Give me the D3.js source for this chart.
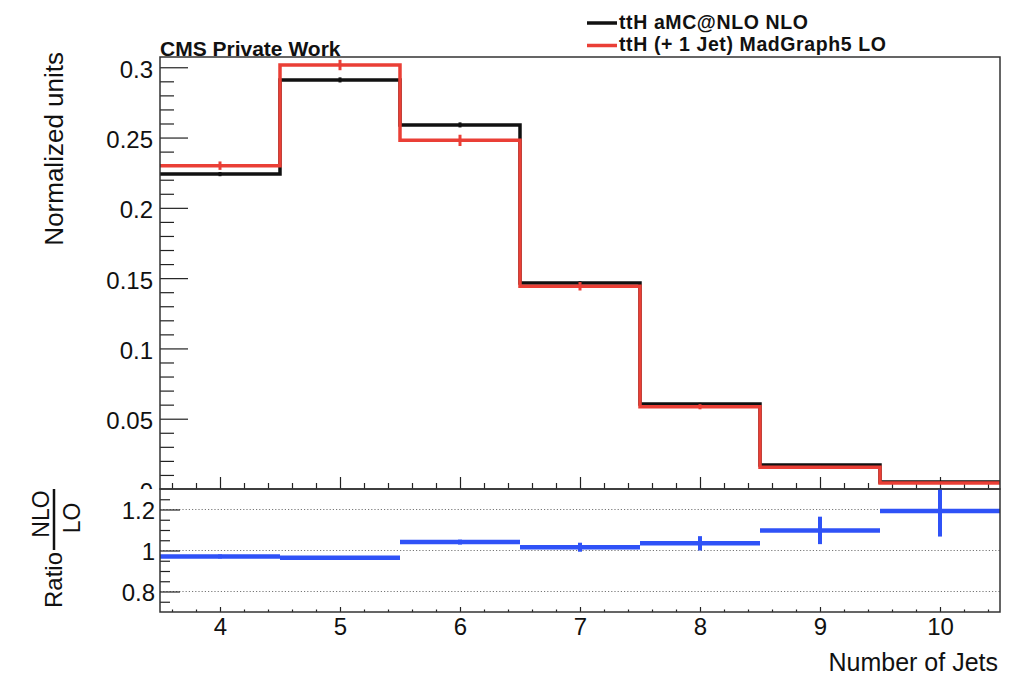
<!DOCTYPE html>
<html>
<head>
<meta charset="utf-8">
<script src="https://cdn.jsdelivr.net/npm/d3@7"></script>
<style>
  body { margin: 0; background: #fff; }
  svg { display: block; font-family: "Liberation Sans", Arial, Helvetica, sans-serif; }
</style>
</head>
<body>
<div id="svg-area"></div>
<script>
// bins of the histogram (number of jets)
const jets = [4, 5, 6, 7, 8, 9, 10]

// ttH aMC@NLO NLO (black)
const nloValues = [0.224, 0.291, 0.259, 0.1465, 0.0605, 0.0170, 0.0050]
const nloErrors = [0.0015, 0.0018, 0.0018, 0.0013, 0.0008, 0.0004, 0.0002]

// ttH (+ 1 Jet) MadGraph5 LO (red)
const loValues = [0.230, 0.3016, 0.248, 0.1442, 0.0585, 0.0155, 0.0042]
const loErrors = [0.003, 0.0037, 0.004, 0.003, 0.0018, 0.0009, 0.0004]

// ratio NLO / LO (blue)
const ratioValues = [0.971, 0.965, 1.041, 1.016, 1.035, 1.098, 1.193]
const ratioErrors = [0.010, 0.008, 0.012, 0.022, 0.035, 0.067, 0.125]

const yTicks = [0, 0.05, 0.1, 0.15, 0.2, 0.25, 0.3]
const ratioTicks = [0.8, 1, 1.2]
const xTicks = [4, 5, 6, 7, 8, 9, 10]

const legendLabels = ["ttH aMC@NLO NLO", "ttH (+ 1 Jet) MadGraph5 LO"]

const width = 1009,
    height = 677

const left = 160, right = 1000
const topY = 57, midY = 489, bottomY = 612

const black = "#111", red = "#ea3f36", blue = "#2f52f7"

const svg = d3.select("#svg-area").append("svg")
        .attr("width", width)
        .attr("height", height)

const x = d3.scaleLinear().domain([3.5, 10.5]).range([left, right])
const y = d3.scaleLinear().domain([0, 0.3073]).range([midY, topY])
const yr = d3.scaleLinear().domain([0.7, 1.3]).range([bottomY, midY])

const minorY = d3.range(0, 0.305, 0.01).filter(v => Math.abs(v * 20 - Math.round(v * 20)) > 1e-6)
const minorX = d3.range(3.6, 10.45, 0.2).filter(v => Math.abs(v - Math.round(v)) > 1e-6)
const minorR = d3.range(0.75, 1.29, 0.05).filter(v => Math.abs(v * 5 - Math.round(v * 5)) > 1e-6)

const defs = svg.append("defs")
defs.append("clipPath").attr("id", "clip-top")
    .append("rect").attr("x", left).attr("y", topY).attr("width", right - left).attr("height", midY - topY)
defs.append("clipPath").attr("id", "clip-bot")
    .append("rect").attr("x", left).attr("y", midY).attr("width", right - left).attr("height", bottomY - midY)
// the upper pad cuts its "0" label in half
defs.append("clipPath").attr("id", "clip-pad")
    .append("rect").attr("x", -left).attr("y", 0).attr("width", width).attr("height", midY)

const styleAxis = (g, w) => {
    g.select(".domain").remove()
    g.selectAll("line").attr("stroke", "#222").attr("stroke-width", w || 1.2)
    g.selectAll("text").attr("fill", "#111").attr("font-size", 24)
}

// ---------- upper panel ----------
const upper = svg.append("g")

upper.append("g")
    .attr("transform", "translate(" + left + ",0)")
    .call(d3.axisLeft(y).tickValues(minorY).tickSize(-14).tickFormat(""))
    .call(g => styleAxis(g))

const yAxis = upper.append("g")
    .attr("transform", "translate(" + left + ",0)")
    .attr("clip-path", "url(#clip-pad)")
    .call(d3.axisLeft(y).tickValues(yTicks).tickSize(-28).tickPadding(7).tickFormat(d => String(d)))
    .call(g => styleAxis(g))
yAxis.selectAll("text").attr("dy", "0.42em")

upper.append("g")
    .attr("transform", "translate(0," + midY + ")")
    .call(d3.axisBottom(x).tickValues(minorX).tickSize(-6).tickFormat(""))
    .call(g => styleAxis(g))
upper.append("g")
    .attr("transform", "translate(0," + midY + ")")
    .call(d3.axisBottom(x).tickValues(xTicks).tickSize(-12).tickFormat(""))
    .call(g => styleAxis(g))

const stepLine = d3.line()
        .x(d => x(d[0]))
        .y(d => y(d[1]))
        .curve(d3.curveStepAfter)

const histPoints = (vals) => {
    const pts = jets.map((j, i) => [j - 0.5, vals[i]])
    pts.push([jets[jets.length - 1] + 0.5, vals[vals.length - 1]])
    return pts
}

const hists = upper.append("g").attr("clip-path", "url(#clip-top)")

const drawHist = (vals, errs, color) => {
    hists.append("path")
        .attr("d", stepLine(histPoints(vals)))
        .attr("fill", "none")
        .attr("stroke", color)
        .attr("stroke-width", 3.5)
    hists.selectAll(null)
        .data(jets)
        .enter()
        .append("line")
        .attr("x1", d => x(d))
        .attr("x2", d => x(d))
        .attr("y1", (d, i) => y(vals[i] - errs[i]))
        .attr("y2", (d, i) => y(vals[i] + errs[i]))
        .attr("stroke", color)
        .attr("stroke-width", 3)
}

drawHist(nloValues, nloErrors, black)
drawHist(loValues, loErrors, red)

upper.append("rect")
    .attr("x", left).attr("y", topY)
    .attr("width", right - left).attr("height", midY - topY)
    .attr("fill", "none").attr("stroke", "#333").attr("stroke-width", 1.5)

upper.append("text")
    .attr("transform", "translate(63," + (topY - 5) + ") rotate(-90)")
    .attr("text-anchor", "end")
    .attr("font-size", 26)
    .attr("fill", "#111")
    .text("Normalized units")

upper.append("text")
    .attr("x", left)
    .attr("y", 56)
    .attr("font-size", 21)
    .attr("font-weight", "bold")
    .attr("fill", "#111")
    .text("CMS Private Work")

// legend
const legend = svg.append("g")
legendLabels.forEach((label, i) => {
    const ly = 28.5 + i * 22.5
    legend.append("line")
        .attr("x1", 587).attr("x2", 617)
        .attr("y1", ly - 5.5).attr("y2", ly - 5.5)
        .attr("stroke", i === 0 ? black : red)
        .attr("stroke-width", 3.5)
    legend.append("text")
        .attr("x", 619)
        .attr("y", ly)
        .attr("font-size", 19.5)
        .attr("letter-spacing", 0.6)
        .attr("font-weight", "bold")
        .attr("fill", "#111")
        .text(label)
})

// ---------- lower (ratio) panel ----------
const lower = svg.append("g")

lower.selectAll(".grid")
    .data(ratioTicks)
    .enter()
    .append("line")
    .attr("x1", left).attr("x2", right)
    .attr("y1", d => yr(d)).attr("y2", d => yr(d))
    .attr("stroke", "#777")
    .attr("stroke-width", 1)
    .attr("stroke-dasharray", "1.2,2")

lower.append("g")
    .attr("transform", "translate(" + left + ",0)")
    .call(d3.axisLeft(yr).tickValues(minorR).tickSize(-10).tickFormat(""))
    .call(g => styleAxis(g))
const rAxis = lower.append("g")
    .attr("transform", "translate(" + left + ",0)")
    .call(d3.axisLeft(yr).tickValues(ratioTicks).tickSize(-20).tickPadding(5).tickFormat(d => String(d)))
    .call(g => styleAxis(g))
rAxis.selectAll("text").attr("dy", "0.38em")

lower.append("g")
    .attr("transform", "translate(0," + bottomY + ")")
    .call(d3.axisBottom(x).tickValues(minorX).tickSize(-2.5).tickFormat(""))
    .call(g => styleAxis(g))
lower.append("g")
    .attr("transform", "translate(0," + bottomY + ")")
    .call(d3.axisBottom(x).tickValues(xTicks).tickSize(-5).tickPadding(6).tickFormat(d => String(d)))
    .call(g => styleAxis(g))

const ratio = lower.append("g").attr("clip-path", "url(#clip-bot)")
ratio.selectAll(".rh")
    .data(jets)
    .enter()
    .append("line")
    .attr("x1", d => x(d - 0.5))
    .attr("x2", d => x(d + 0.5))
    .attr("y1", (d, i) => yr(ratioValues[i]))
    .attr("y2", (d, i) => yr(ratioValues[i]))
    .attr("stroke", blue)
    .attr("stroke-width", 4.5)
ratio.selectAll(".rv")
    .data(jets)
    .enter()
    .append("line")
    .attr("x1", d => x(d))
    .attr("x2", d => x(d))
    .attr("y1", (d, i) => yr(ratioValues[i] - ratioErrors[i]))
    .attr("y2", (d, i) => yr(ratioValues[i] + ratioErrors[i]))
    .attr("stroke", blue)
    .attr("stroke-width", 4)

lower.append("rect")
    .attr("x", left).attr("y", midY)
    .attr("width", right - left).attr("height", bottomY - midY)
    .attr("fill", "none").attr("stroke", "#333").attr("stroke-width", 1.5)

lower.append("text")
    .attr("x", 998)
    .attr("y", 671)
    .attr("text-anchor", "end")
    .attr("font-size", 25)
    .attr("fill", "#111")
    .text("Number of Jets")

// "Ratio NLO/LO" title
lower.append("text")
    .attr("transform", "translate(62,608) rotate(-90)")
    .attr("font-size", 24)
    .attr("fill", "#111")
    .text("Ratio")
lower.append("text")
    .attr("transform", "translate(49,514) rotate(-90)")
    .attr("text-anchor", "middle")
    .attr("font-size", 23)
    .attr("fill", "#111")
    .text("NLO")
lower.append("line")
    .attr("x1", 54).attr("x2", 54)
    .attr("y1", 489).attr("y2", 550)
    .attr("stroke", "#111")
    .attr("stroke-width", 2.5)
lower.append("text")
    .attr("transform", "translate(80,518) rotate(-90)")
    .attr("text-anchor", "middle")
    .attr("font-size", 23)
    .attr("fill", "#111")
    .text("LO")
</script>
</body>
</html>
